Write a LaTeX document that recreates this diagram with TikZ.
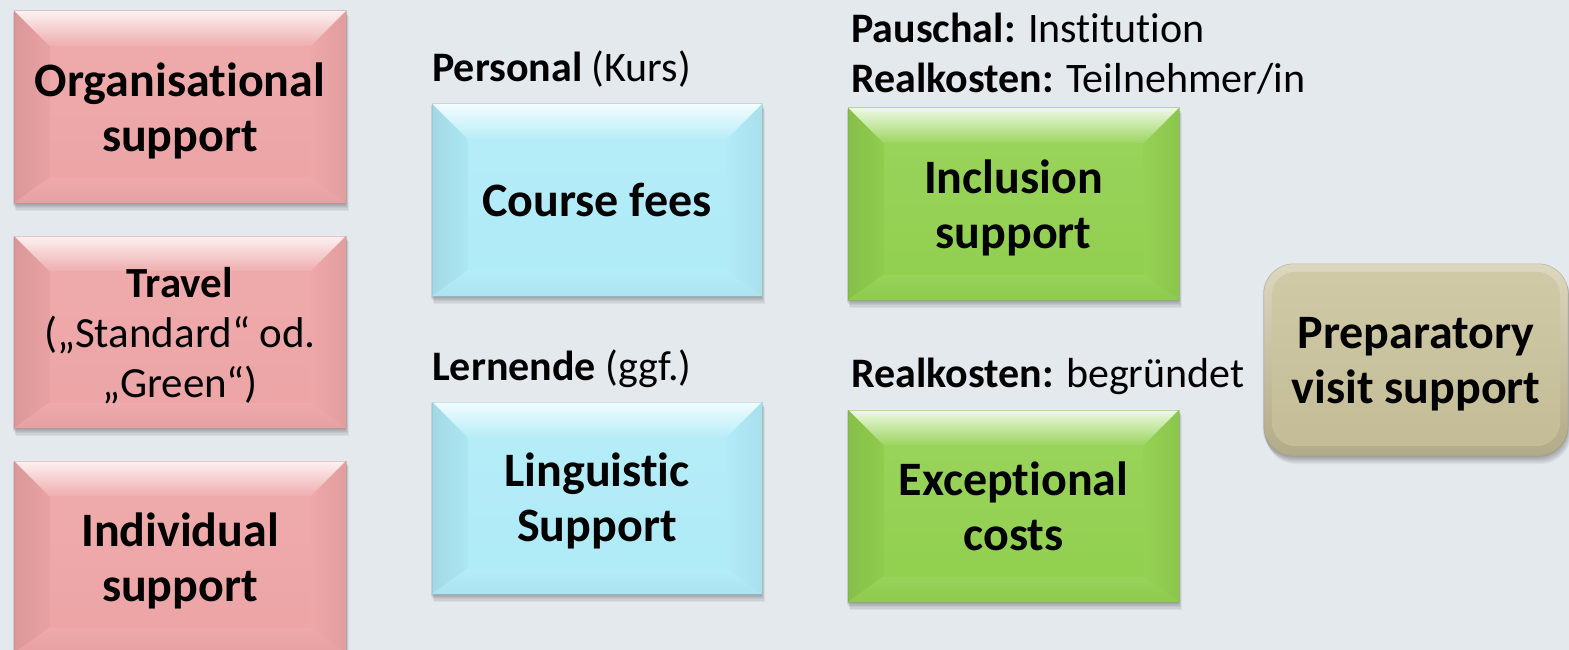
\documentclass[tikz,border=0pt]{standalone}
\usepackage{fontspec}
\setmainfont{Carlito}[Ligatures={TeX,NoCommon}]
\usetikzlibrary{calc,backgrounds}
\definecolor{bgc}{HTML}{E4E9EE}
\definecolor{pinkc}{HTML}{EDA5A6}
\definecolor{bluec}{HTML}{B0EBF8}
\definecolor{greenc}{HTML}{92D050}
\definecolor{tanc}{HTML}{C9C29B}
\tikzset{
  boxshape/.style={inner sep=0pt, minimum height=192pt},
  boxtext/.style={align=center, font=\fontsize{48}{55}\selectfont\bfseries, text=black, inner sep=0pt},
  lbl/.style={anchor=base west, inner sep=0pt, font=\fontsize{42}{50}\selectfont},
  shadowpiece/.style={fill=black, opacity=0.05},
}
\begin{document}
\begin{tikzpicture}[x=1pt,y=-1pt]
\useasboundingbox (0,0) rectangle (1569,650);
\clip (0,0) rectangle (1569,650);

% box shapes
\node[boxshape, minimum width=332pt] (org) at (180,107) {};
\node[boxshape, minimum width=332pt] (trav) at (180,332) {};
\node[boxshape, minimum width=332pt] (ind) at (180,557) {};
\node[boxshape, minimum width=330pt] (course) at (597,200) {};
\node[boxshape, minimum width=330pt] (ling) at (597,498) {};
\node[boxshape, minimum width=331pt] (incl) at (1013.5,204) {};
\node[boxshape, minimum width=331pt] (exc) at (1013.5,506) {};
\node[boxshape, minimum width=304pt] (prep) at (1416,360) {};

% box texts
\node[boxtext] (orgT) at ($(org)+(0,4)$) {Organisational\\support};
\node[boxtext, font=\fontsize{43}{50}\selectfont] (travT) at ($(trav)+(0,4)$) {\textbf{Travel}\\(„Standard“ od.\\„Green“)};
\node[boxtext] (indT) at ($(ind)+(0,4)$) {Individual\\support};
\node[boxtext] (courseT) at (course) {Course fees};
\node[boxtext] (lingT) at ($(ling)+(0,3)$) {Linguistic\\Support};
\node[boxtext] (inclT) at ($(incl)+(0,4)$) {Inclusion\\support};
\node[boxtext] (excT) at (exc) {Exceptional\\costs};
\node[boxtext] (prepT) at ($(prep)+(0,4)$) {Preparatory\\visit support};

% labels
\node[lbl] (pers) at (432,82) {\textbf{Personal} (Kurs)};
\node[lbl] (paus) at (851,43) {\textbf{Pauschal:} Institution};
\node[lbl] (realA) at (851,93) {\textbf{Realkosten:} Teilnehmer/in};
\node[lbl] (lern) at (432,380) {\textbf{Lernende} (ggf.)};
\node[lbl] (realB) at (851,387) {\textbf{Realkosten:} begründet};

\begin{scope}[on background layer]
  \fill[bgc] (0,0) rectangle (1569,650);
  \foreach \n/\c in {org/pinkc, trav/pinkc, ind/pinkc, course/bluec, ling/bluec, incl/greenc, exc/greenc}{
    \foreach \k in {1,...,6}
      \fill[shadowpiece] ($(\n.north west)+(-2+\k*0.7,\k*0.9)$) rectangle ($(\n.south east)+(-1+\k*0.6,\k*1.3)$);
    \fill[\c] (\n.north west) rectangle (\n.south east);
    % top bevel
    \shade[top color=white!85!\c, bottom color=\c!92!white]
      (\n.north west) -- (\n.north east) -- ($(\n.north east)+(-36,36)$) -- ($(\n.north west)+(36,36)$) -- cycle;
    % left bevel
    \shade[left color=\c!92!black, right color=\c!98!black]
      (\n.north west) -- ($(\n.north west)+(36,36)$) -- ($(\n.south west)+(36,-26)$) -- (\n.south west) -- cycle;
    % right bevel
    \shade[left color=\c!97!white, right color=\c!95!black]
      (\n.north east) -- ($(\n.north east)+(-36,36)$) -- ($(\n.south east)+(-36,-26)$) -- (\n.south east) -- cycle;
    % bottom bevel
    \shade[top color=\c!94!white, bottom color=\c!97!black]
      (\n.south west) -- ($(\n.south west)+(36,-26)$) -- ($(\n.south east)+(-36,-26)$) -- (\n.south east) -- cycle;
    % face
    \shade[top color=\c!94!white, bottom color=\c]
      ($(\n.north west)+(36,36)$) rectangle ($(\n.south east)+(-36,-26)$);
    \draw[\c!80!black, line width=0.6pt, opacity=0.4] (\n.north west) rectangle (\n.south east);
  }
  % preparatory rounded box
  \foreach \k in {1,...,6}
    \fill[shadowpiece, rounded corners=30pt] ($(prep.north west)+(-2+\k*0.7,\k*0.9)$) rectangle ($(prep.south east)+(-1+\k*0.6,\k*1.3)$);
  \shade[rounded corners=30pt, top color=tanc!65!white, bottom color=tanc!88!black]
    (prep.north west) rectangle (prep.south east);
  \shade[rounded corners=24pt, top color=tanc!88!white, bottom color=tanc!97!black]
    ($(prep.north west)+(8,8)$) rectangle ($(prep.south east)+(-8,-10)$);
  \draw[rounded corners=30pt, tanc!75!black, line width=0.6pt, opacity=0.5] (prep.north west) rectangle (prep.south east);
\end{scope}
\end{tikzpicture}
\end{document}
